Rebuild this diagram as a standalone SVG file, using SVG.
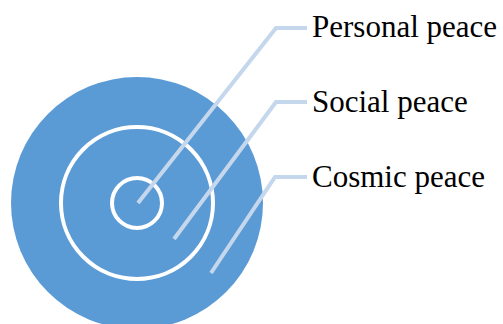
<svg xmlns="http://www.w3.org/2000/svg" width="503" height="324" viewBox="0 0 503 324">
<style>
.ring{fill:none;stroke:#ffffff;stroke-width:4}
.conn{fill:none;stroke:#c5d7ec;stroke-width:4;stroke-linejoin:miter}
.lbl{font-family:"Liberation Serif","Times New Roman",serif;font-size:31px;fill:#000000}
</style>
<rect width="503" height="324" fill="#ffffff"/>
<g id="cosmic">
<circle cx="137" cy="203" r="126" fill="#5b9bd5"/>
</g>
<g id="social">
<circle class="ring" cx="137" cy="203" r="76"/>
</g>
<g id="personal">
<circle class="ring" cx="137" cy="203" r="25"/>
</g>
<g id="connectors">
<polyline class="conn" points="138,203 276,28 307,28"/>
<polyline class="conn" points="174,239 276,102 307,102"/>
<polyline class="conn" points="211,273 275,177 307,177"/>
</g>
<g id="labels">
<text class="lbl" x="312" y="37">Personal peace</text>
<text class="lbl" x="312" y="112">Social peace</text>
<text class="lbl" x="312" y="187">Cosmic peace</text>
</g>
</svg>
